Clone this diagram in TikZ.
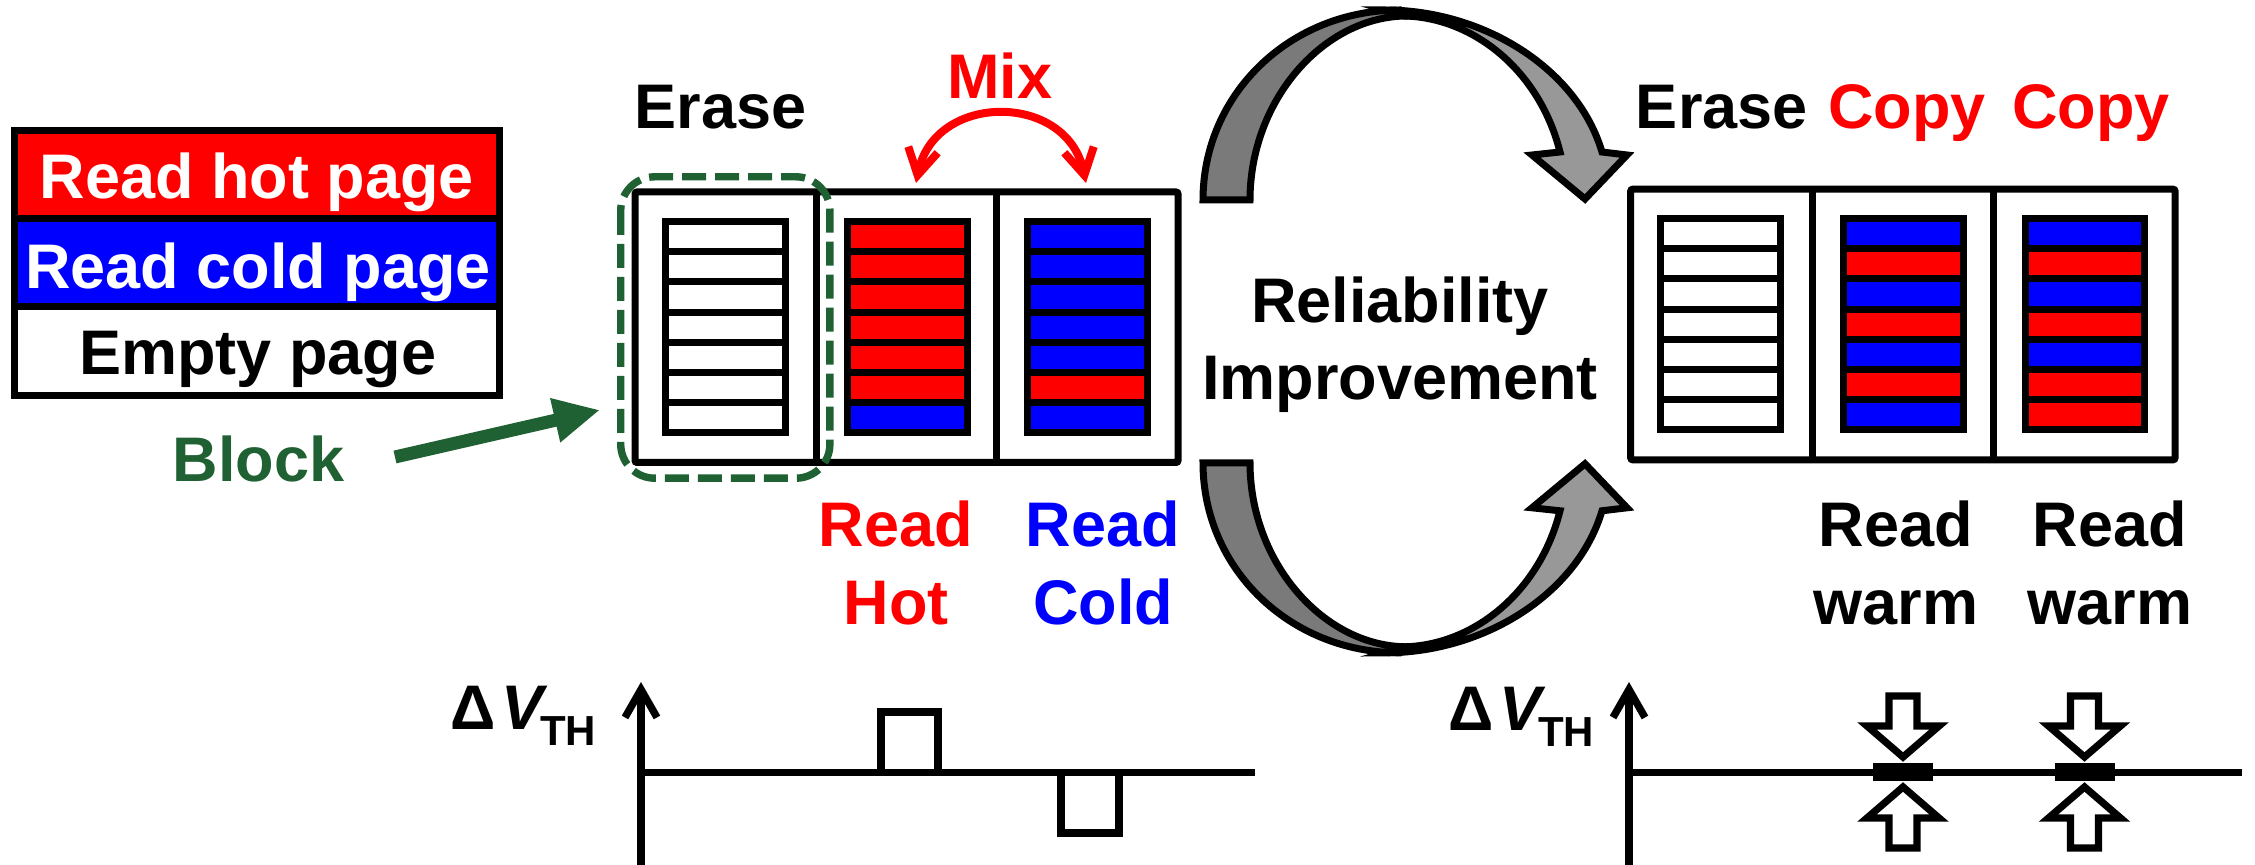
\documentclass[tikz,border=0pt]{standalone}
\usepackage{fontspec}
\setmainfont{Liberation Sans}
\usepackage{graphicx}
\usetikzlibrary{arrows.meta}
\definecolor{hotred}{RGB}{255,0,0}
\definecolor{coldblue}{RGB}{0,0,255}
\definecolor{blkgreen}{RGB}{31,97,51}
\definecolor{darkgr}{RGB}{122,122,122}
\definecolor{lightgr}{RGB}{152,152,152}
\newcommand\mylbl{\fontsize{31.5}{38.65}\selectfont\bfseries}
\newcommand\twoline[2]{\begin{tabular}[t]{@{}c@{}}#1\\#2\end{tabular}}
\newcommand\dvth{Δ\hspace{3pt}\textit{V}\hspace{-4pt}\raisebox{-8pt}{\fontsize{21}{22}\selectfont TH}}
\newcommand\pgcol[5]{%
  \pgfmathsetmacro\pgrowh{(#4-#3)/7}%
  \foreach \pcol [count=\pidx from 0] in {#5}{%
    \draw[pageline,fill=\pcol] (#1,{#3+\pidx*\pgrowh}) rectangle (#2,{#3+(\pidx+1)*\pgrowh});
  }%
}
\tikzset{
  lbl/.style={inner sep=0pt, anchor=base, font=\mylbl},
  pageline/.style={draw=black, line width=3.5pt},
  blockline/.style={draw=black, line width=3.5pt, rounded corners=1pt},
  plotline/.style={line width=3.7pt},
  hollowarr/.style={draw=black, fill=white, line width=3.6pt, line join=miter},
  curvearr/.style={draw=black, line width=3.5pt, line join=miter},
}
\begin{document}
\begin{tikzpicture}[x=0.5pt,y=-0.5pt]
\useasboundingbox (0,0) rectangle (2255,865);

% ---------- legend ----------
\draw[pageline,fill=hotred] (14.2,130.2) rectangle (499.9,218.3);
\draw[pageline,fill=coldblue] (14.2,218.3) rectangle (499.9,306.7);
\draw[pageline,fill=white] (14.2,306.7) rectangle (499.9,395.8);
\node[lbl,text=white] (legHot) at (257,198.3) {Read hot page};
\node[lbl,text=white] (legCold) at (258,288.3) {Read cold page};
\node[lbl] (legEmpty) at (258,375) {Empty page};

% ---------- Block label and arrow ----------
\node[lbl,text=blkgreen] (blockLbl) at (258.5,481.7) {Block};
\coordinate (blkS) at (395,457);
\coordinate (blkE) at (600,410);
\draw[blkgreen,line width=6.5pt,-{Triangle[length=23pt,width=21pt]}] (blkS) -- (blkE);

% ---------- left block ----------
\draw[blockline,fill=white] (635,192) rectangle (1178,462.5);
\draw[pageline] (816.2,192) -- (816.2,462.5);
\draw[pageline] (996.9,192) -- (996.9,462.5);
\pgcol{665.9}{785.9}{221.8}{432.5}{white,white,white,white,white,white,white}
\pgcol{847.3}{967}{221.8}{432.5}{hotred,hotred,hotred,hotred,hotred,hotred,coldblue}
\pgcol{1027.5}{1147.5}{221.8}{432.5}{coldblue,coldblue,coldblue,coldblue,coldblue,hotred,coldblue}
\draw[blkgreen,line width=3.7pt,dash pattern=on 12pt off 4.5pt,rounded corners=17pt] (620.7,176.8) rectangle (829.9,478.2);

\node[lbl] (erase1) at (720.5,128.3) {Erase};
\node[lbl,text=hotred] (mix) at (1000,98.3) {Mix};
\coordinate (mixL) at (916,183);
\coordinate (mixR) at (1086,183);
\draw[hotred,line width=4pt,{Straight Barb[length=13pt,width=15pt]}-{Straight Barb[length=13pt,width=15pt]}]
  (mixL) .. controls (935,92) and (1067,92) .. (mixR);

\node[lbl,text=hotred] (readHot) at (896,547) {\twoline{Read}{Hot}};
\node[lbl,text=coldblue] (readCold) at (1103,547) {\twoline{Read}{Cold}};

% ---------- circular arrows ----------
\draw[curvearr,fill=lightgr] (1385,10) .. controls (1483,10) and (1577,68) .. (1602,152)
  -- (1627,155) -- (1585,199) -- (1532,155) -- (1560,152)
  .. controls (1540,72) and (1475,18) .. (1405,16) -- cycle;
\draw[curvearr,fill=darkgr] (1203,200) .. controls (1203,94) and (1290,10) .. (1400,10)
  -- (1407,16) .. controls (1324,16) and (1250,100) .. (1250,200) -- cycle;

\draw[curvearr,fill=lightgr] (1385,652.8) .. controls (1483,652.8) and (1577,594.8) .. (1602,510.8)
  -- (1627,507.8) -- (1585,463.8) -- (1532,507.8) -- (1560,510.8)
  .. controls (1540,590.8) and (1475,644.8) .. (1405,646.8) -- cycle;
\draw[curvearr,fill=darkgr] (1203,462.8) .. controls (1203,568.8) and (1290,652.8) .. (1400,652.8)
  -- (1407,646.8) .. controls (1324,646.8) and (1250,562.8) .. (1250,462.8) -- cycle;

\node[lbl] (relImp) at (1400,322.3) {\twoline{Reliability}{Improvement}};

% ---------- right block ----------
\draw[blockline,fill=white] (1630.7,189.2) rectangle (2175,459.8);
\draw[pageline] (1812.2,189.2) -- (1812.2,459.8);
\draw[pageline] (1993.9,189.2) -- (1993.9,459.8);
\pgcol{1660.7}{1780.3}{218.5}{429.8}{white,white,white,white,white,white,white}
\pgcol{1843.7}{1963.3}{218.5}{429.8}{coldblue,hotred,coldblue,hotred,coldblue,hotred,coldblue}
\pgcol{2025.4}{2144.5}{218.5}{429.8}{coldblue,hotred,coldblue,hotred,coldblue,hotred,hotred}

\node[lbl] (erase2) at (1721.8,128.3) {Erase};
\node[lbl,text=hotred] (copy1) at (1907,128.3) {Copy};
\node[lbl,text=hotred] (copy2) at (2090.8,128.3) {Copy};
\node[lbl] (warm1) at (1896,547) {\twoline{Read}{warm}};
\node[lbl] (warm2) at (2110,547) {\twoline{Read}{warm}};

% ---------- left plot ----------
\node[lbl,anchor=base west] (dvt1) at (450,730) {\dvth};
\coordinate (ax1b) at (641,865);
\coordinate (ax1t) at (641,682);
\coordinate (ax1o) at (641,772.3);
\coordinate (ax1r) at (1255,772.3);
\draw[plotline,-{Straight Barb[length=14pt,width=16pt]}] (ax1b) -- (ax1t);
\draw[plotline] (ax1o) -- (ax1r);
\draw[plotline] (881,772.3) -- (881,712) -- (938,712) -- (938,772.3);
\draw[plotline] (1061,772.3) -- (1061,833) -- (1119,833) -- (1119,772.3);

% ---------- right plot ----------
\node[lbl,anchor=base west] (dvt2) at (1448,731) {\dvth};
\coordinate (ax2b) at (1629,865);
\coordinate (ax2t) at (1629,682);
\coordinate (ax2o) at (1629,772.3);
\coordinate (ax2r) at (2242,772.3);
\draw[plotline,-{Straight Barb[length=14pt,width=16pt]}] (ax2b) -- (ax2t);
\draw[plotline] (ax2o) -- (ax2r);
\foreach \cx in {1903,2084.5}{
  \fill ({\cx-30},763) rectangle ({\cx+30},781);
  \draw[hollowarr] ({\cx-14},696) -- ({\cx+14},696) -- ({\cx+14},726) -- ({\cx+36},726)
    -- (\cx,757) -- ({\cx-36},726) -- ({\cx-14},726) -- cycle;
  \draw[hollowarr] ({\cx-14},848) -- ({\cx+14},848) -- ({\cx+14},818) -- ({\cx+36},818)
    -- (\cx,787) -- ({\cx-36},818) -- ({\cx-14},818) -- cycle;
}
\end{tikzpicture}
\end{document}
